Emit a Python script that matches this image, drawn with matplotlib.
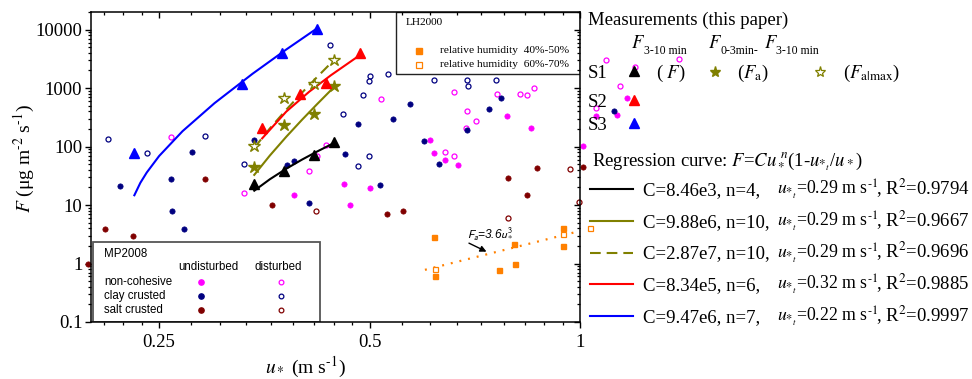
import numpy as np
import matplotlib
matplotlib.use('Agg')
import matplotlib.pyplot as plt
from matplotlib.lines import Line2D
from matplotlib.patches import Rectangle
from matplotlib.ticker import FixedLocator, FixedFormatter, NullFormatter

plt.rcParams['font.family'] = ['Liberation Serif', 'DejaVu Serif']
plt.rcParams['mathtext.fontset'] = 'stix'
plt.rcParams['lines.scale_dashes'] = False

W, H = 972, 379

# ---- this paper: runs S1, S2, S3 (u* in m/s, F in ug m-2 s-1)
s1_u = [0.342, 0.377, 0.416, 0.444]
s1_F = [22.6, 38.2, 70.8, 118]
s1_Fa = [44.7, 230, 364, 1065]
s1_Famax = [102, 683, 1152, 3040]
s2_u = [0.351, 0.398, 0.433, 0.485]
s2_F = [210, 778, 1231, 3944]
s3_u = [0.230, 0.328, 0.375, 0.420]
s3_F = [76.6, 1197, 4053, 10400]

# regression curves
fitS1_u = [0.342, 0.36, 0.38, 0.40, 0.42, 0.444]
fitS1_F = [17.6, 27.6, 41.8, 59.6, 81.5, 114]
fitS1a_F = [32.8, 70.2, 147, 285, 522, 1021]
fitS1m_F = [95.3, 204, 427, 828, 1517, 2966]
fitS2_u = [0.351, 0.38, 0.41, 0.44, 0.485]
fitS2_F = [138, 396, 870, 1651, 3707]
fitS3_u = [0.2304, 0.235, 0.24, 0.25, 0.27, 0.30, 0.34, 0.38, 0.42]
fitS3_F = [14.7, 24, 36, 69, 183, 552, 1755, 4567, 10390]

# ---- MP2008
nc_und_u = [0.390, 0.460, 0.500, 0.469, 0.610, 0.619, 0.641, 0.668, 0.786, 0.851, 1.009, 1.055, 1.128, 1.168]
nc_und_F = [15.0, 22.6, 19.9, 9.9, 131, 77.4, 58.2, 47.8, 334, 205, 102, 328, 341, 683]
nc_dis_u = [0.260, 0.331, 0.410, 0.433, 0.421, 0.520, 0.660, 0.689, 0.710, 0.686, 0.761,
            0.820, 0.839, 0.859, 0.640, 0.660, 1.088, 1.198, 1.384, 1.139, 1.055]
nc_dis_F = [146, 16.1, 38.5, 105, 68, 639, 865, 399, 269, 210, 793,
            793, 748, 1012, 79.6, 68, 3040, 2337, 3162, 1107, 454]
cc_und_u = [0.220, 0.260, 0.279, 0.261, 0.271, 0.342, 0.381, 0.390, 0.410, 0.461, 0.481,
            0.541, 0.571, 0.518, 0.598, 0.628, 0.689, 0.742, 0.770, 1.118]
cc_und_F = [20.9, 27.6, 79.6, 7.84, 3.97, 131, 47.8, 57.0, 10.9, 73.6, 246,
            299, 525, 22.2, 123, 51.1, 189, 431, 665, 399]
cc_dis_u = [0.211, 0.240, 0.291, 0.331, 0.439, 0.500, 0.499, 0.532, 0.489, 0.458, 0.481,
            0.499, 0.618, 0.689, 0.691, 0.759]
cc_dis_F = [136, 78.7, 151, 49.7, 5483, 1578, 1297, 1727, 769, 354, 46.5,
            68, 1402, 1402, 1107, 1402]
sc_und_u = [0.291, 0.209, 0.229, 0.198, 0.362, 0.530, 0.559, 0.788, 0.839, 0.868, 1.009]
sc_und_F = [27.6, 3.97, 2.97, 0.98, 9.9, 6.97, 7.93, 29.0, 14.7, 42.5, 44.7]
sc_dis_u = [0.419, 0.969, 0.789, 0.997]
sc_dis_F = [7.84, 41.6, 5.95, 11.2]

# ---- LH2000
lh_low_u = [0.618, 0.620, 0.767, 0.808, 0.805, 0.946, 0.946]
lh_low_F = [2.79, 0.61, 0.762, 1.0, 2.17, 4.07, 1.98]
lh_high_u = [0.620, 0.946, 1.034]
lh_high_F = [0.812, 3.26, 4.02]
lh_fit_u = [0.6, 1.0]
lh_fit_F = [0.78, 3.6]

reg_labels = [('C=8.46e3, n=4,', '0.29', '0.9794'),
              ('C=9.88e6, n=10,', '0.29', '0.9667'),
              ('C=2.87e7, n=10,', '0.29', '0.9696'),
              ('C=8.34e5, n=6,', '0.32', '0.9885'),
              ('C=9.47e6, n=7,', '0.22', '0.9997')]

MAG, NAVY, DRED, OLIVE, ORANGE = '#FF00FF', '#000080', '#800000', '#808000', '#FF8000'


def fx(px):
    return px / W


def fy(py):
    return 1 - py / H


fig = plt.figure(figsize=(W / 100, H / 100), dpi=100)
ax = fig.add_axes([fx(91.4), fy(322), (580 - 91.4) / W, 310 / H])
ax.set_xscale('log')
ax.set_yscale('log')
ax.set_xlim(0.2, 1)
ax.set_ylim(0.1, 2e4)

# MP2008 scatter
groups = [(nc_und_u, nc_und_F, MAG, True), (nc_dis_u, nc_dis_F, MAG, False),
          (cc_und_u, cc_und_F, NAVY, True), (cc_dis_u, cc_dis_F, NAVY, False),
          (sc_und_u, sc_und_F, DRED, True), (sc_dis_u, sc_dis_F, DRED, False)]
for u, F, c, filled in groups:
    if filled:
        ax.plot(u, F, 'o', ms=3.8, mfc=c, mec=c, mew=0.5, ls='none', clip_on=False, zorder=2)
    else:
        ax.plot(u, F, 'o', ms=3.6, mfc='white', mec=c, mew=0.9, ls='none', clip_on=False, zorder=2)

# LH2000
ax.plot(lh_fit_u, lh_fit_F, color=ORANGE, lw=1.6, ls=(0, (1.4, 5.0)), zorder=2)
ax.plot(lh_low_u, lh_low_F, 's', ms=3.6, mfc=ORANGE, mec=ORANGE, ls='none', clip_on=False, zorder=2)
ax.plot(lh_high_u, lh_high_F, 's', ms=3.6, mfc='white', mec=ORANGE, mew=0.9, ls='none', clip_on=False, zorder=2)

# regression curves
ax.plot(fitS1_u, fitS1_F, color='black', lw=1.5, zorder=3)
ax.plot(fitS1_u, fitS1a_F, color=OLIVE, lw=1.5, zorder=3)
ax.plot(fitS1_u, fitS1m_F, color=OLIVE, lw=1.5, ls=(0, (7.7, 4.3)), zorder=3)
ax.plot(fitS2_u, fitS2_F, color='red', lw=1.5, zorder=3)
ax.plot(fitS3_u, fitS3_F, color='blue', lw=1.5, zorder=3)

# measurements
ax.plot(s1_u, s1_F, '^', ms=7.7, color='black', ls='none', zorder=4)
ax.plot(s1_u, s1_Fa, '*', ms=9, color=OLIVE, ls='none', zorder=4)
ax.plot(s1_u, s1_Famax, '*', ms=9, mfc='white', mec=OLIVE, mew=1.0, ls='none', zorder=4)
ax.plot(s2_u, s2_F, '^', ms=7.7, color='red', ls='none', zorder=4)
ax.plot(s3_u, s3_F, '^', ms=7.7, color='blue', ls='none', zorder=4)

ax.annotate('', xy=(0.741, 1.52), xytext=(0.688, 2.34),
            arrowprops=dict(arrowstyle='-|>', color='black', lw=1.0, mutation_scale=9), zorder=4)
ax.text(0.689, 2.71, r'$F_a$=3.6$u_*^3$', fontsize=8.6, family='Liberation Sans',
        style='italic', math_fontfamily='stixsans', va='baseline', ha='left', zorder=4)

# axes ticks (Origin-like: linear minor ticks between log majors)
xminor = []
for lo in [0.125, 0.25, 0.5]:
    for k in range(1, 9):
        v = lo + k * lo / 9
        if 0.2 <= v <= 1:
            xminor.append(v)
ax.xaxis.set_major_locator(FixedLocator([0.25, 0.5, 1]))
ax.xaxis.set_major_formatter(FixedFormatter(['0.25', '0.5', '1']))
ax.xaxis.set_minor_locator(FixedLocator(xminor))
ax.xaxis.set_minor_formatter(NullFormatter())
yminor = [m * 10.0 ** e for e in range(-1, 5) for m in range(2, 10) if m * 10.0 ** e <= 2e4]
ax.yaxis.set_major_locator(FixedLocator([0.1, 1, 10, 100, 1000, 10000]))
ax.yaxis.set_major_formatter(FixedFormatter(['0.1', '1', '10', '100', '1000', '10000']))
ax.yaxis.set_minor_locator(FixedLocator(yminor))
ax.yaxis.set_minor_formatter(NullFormatter())
ax.tick_params(which='major', direction='out', length=4.5, width=1.0, labelsize=13.5, pad=2)
ax.tick_params(which='minor', direction='out', length=2.3, width=0.9)
ax.tick_params(axis='x', which='major', pad=4)
for s in ax.spines.values():
    s.set_linewidth(1.1)

axt = fig.add_axes(ax.get_position(), sharex=ax, sharey=ax, frameon=False)
axt.patch.set_visible(False)
axt.tick_params(which='both', direction='in', top=True, right=True, bottom=False, left=False,
                labelbottom=False, labelleft=False)
axt.tick_params(which='major', length=4.5, width=1.0)
axt.tick_params(which='minor', length=2.3, width=0.9)

fig.text(fx(24), fy(159), r'$F$ (μg m$^{\text{-}2}$ s$^{\text{-}1}$)', rotation=90, ha='center', va='center',
         fontsize=14)
fig.text(fx(305), fy(373), r'$u_*$ (m s$^{\text{-}1}$)', ha='center', va='baseline', fontsize=14)

# ---- MP2008 inset box
ax.add_patch(Rectangle((fx(93), fy(322)), (320 - 93) / W, (322 - 241.7) / H, transform=fig.transFigure,
                       facecolor='white', edgecolor='#555555', lw=1.3, zorder=2.2))
sans = dict(family='Liberation Sans', fontsize=8.3, transform=fig.transFigure, zorder=3)
ax.text(fx(104), fy(254), 'MP2008', va='center', ha='left', **sans)
ax.text(fx(208), fy(267), 'undisturbed', va='center', ha='center', **sans)
ax.text(fx(278), fy(267), 'disturbed', va='center', ha='center', **sans)
rows = [('non-cohesive', MAG), ('clay crusted', NAVY), ('salt crusted', DRED)]
for i, (name, c) in enumerate(rows):
    yy = 281.7 + 14 * i
    ax.text(fx(104), fy(yy), name, va='center', ha='left', **sans)
    ax.add_line(Line2D([fx(201)], [fy(yy)], marker='o', ms=3.8, mfc=c, mec=c, ls='none',
                       transform=fig.transFigure, zorder=3))
    ax.add_line(Line2D([fx(281)], [fy(yy)], marker='o', ms=3.4, mfc='white', mec=c, mew=0.9, ls='none',
                       transform=fig.transFigure, zorder=3))

# ---- LH2000 inset box
ax.add_patch(Rectangle((fx(395.7), fy(74)), (579.5 - 395.7) / W, (74 - 12) / H, transform=fig.transFigure,
                       facecolor='white', edgecolor='#222222', lw=1.0, zorder=2.2))
serif8 = dict(fontsize=8.2, transform=fig.transFigure, zorder=3)
ax.text(fx(406), fy(22.7), 'LH2000', va='center', ha='left', **serif8)
ax.text(fx(440), fy(50.7), 'relative humidity  40%-50%', va='center', ha='left', **serif8)
ax.text(fx(440), fy(64.7), 'relative humidity  60%-70%', va='center', ha='left', **serif8)
ax.add_line(Line2D([fx(419)], [fy(50.7)], marker='s', ms=3.8, mfc=ORANGE, mec=ORANGE, ls='none',
                   transform=fig.transFigure, zorder=3))
ax.add_line(Line2D([fx(419)], [fy(64.7)], marker='s', ms=3.8, mfc='white', mec=ORANGE, mew=0.9, ls='none',
                   transform=fig.transFigure, zorder=3))

# ---- right-hand legend
fs = 13.5
fig.text(fx(588), fy(25.3), 'Measurements (this paper)', fontsize=fs, va='baseline')
# column headers, subscripts set by hand
fig.text(fx(630.7), fy(48.3), r'$F$', fontsize=fs, va='baseline')
fig.text(fx(643.5), fy(54), '3-10 min', fontsize=8.5, va='baseline')
fig.text(fx(708.3), fy(48.3), r'$F$', fontsize=fs, va='baseline')
fig.text(fx(720.5), fy(54), '0-3min-', fontsize=8.5, va='baseline')
fig.text(fx(764), fy(48.3), r'$F$', fontsize=fs, va='baseline')
fig.text(fx(776.5), fy(54), '3-10 min', fontsize=8.5, va='baseline')

fig.text(fx(588), fy(78.3), 'S1', fontsize=fs, va='baseline')
fig.text(fx(588), fy(107.3), 'S2', fontsize=fs, va='baseline')
fig.text(fx(588), fy(130), 'S3', fontsize=fs, va='baseline')
fig.text(fx(656), fy(78.3), r'( $F$)', fontsize=fs, va='baseline')
fig.text(fx(737.3), fy(78.3), r'($F_{\mathrm{a}}$)', fontsize=fs, va='baseline')
fig.text(fx(842.7), fy(78.3), r'($F_{\mathrm{a|max}}$)', fontsize=fs, va='baseline')
for (yy, c) in [(70.5, 'black'), (100, 'red'), (123, 'blue')]:
    fig.add_artist(Line2D([fx(634.3)], [fy(yy)], marker='^', ms=7.7, color=c, ls='none'))
fig.add_artist(Line2D([fx(715)], [fy(71.5)], marker='*', ms=8, color=OLIVE, ls='none'))
fig.add_artist(Line2D([fx(820)], [fy(71.5)], marker='*', ms=8, mfc='white', mec=OLIVE, mew=0.9, ls='none'))

fig.text(fx(591.7), fy(165), r'Regression curve: $F$=$Cu_*^{\ n}$(1-$u_{*_t}$/$u_*$)', fontsize=fs,
         va='baseline')
line_styles = [('black', '-'), (OLIVE, '-'), (OLIVE, (0, (7.7, 4.3))), ('red', '-'), ('blue', '-')]
line_y = [189.3, 221.3, 252.7, 284, 316]
for (c, ls), (lab, ut, r2), yy in zip(line_styles, reg_labels, line_y):
    fig.add_artist(Line2D([fx(590), fx(633)], [fy(yy), fy(yy)], color=c, ls=ls, lw=1.5))
    fig.text(fx(643), fy(yy + 5.7), lab, fontsize=fs, va='baseline')
    fig.text(fx(776.7), fy(yy + 5.7), r'$u_{*_t}$=' + ut + r' m s$^{\text{-}1}$', fontsize=12.8,
             va='baseline')
    fig.text(fx(875.5), fy(yy + 5.7), r', R$^2$=' + r2, fontsize=fs, va='baseline')

fig.savefig('out.png', dpi=100)
